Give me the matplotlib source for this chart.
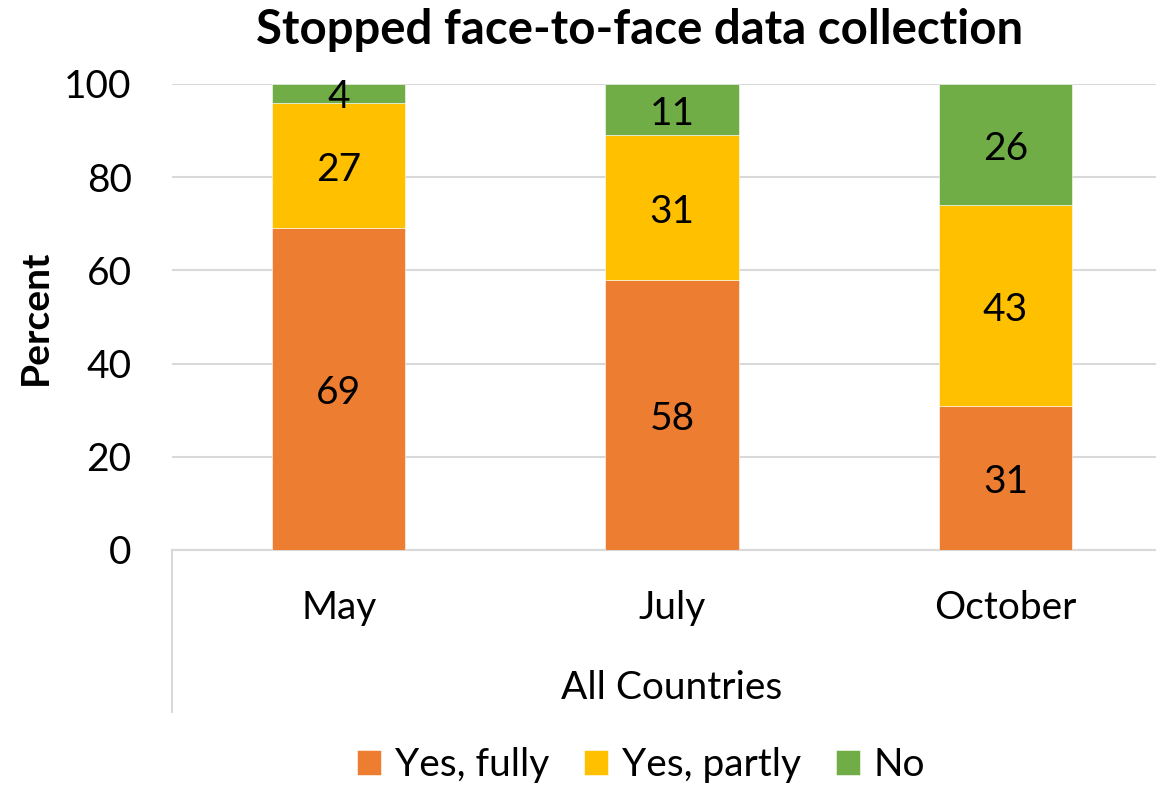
import matplotlib
matplotlib.use("Agg")
import matplotlib.pyplot as plt
from matplotlib.lines import Line2D

plt.rcParams['font.family'] = ['Lato', 'DejaVu Sans']

categories = ["May", "July", "October"]
series_names = ["Yes, fully", "Yes, partly", "No"]
yes_fully = [69, 58, 31]
yes_partly = [27, 31, 43]
no_vals = [4, 11, 26]
colors = ["#ED7D31", "#FFC000", "#70AD47"]
y_ticks = [0, 20, 40, 60, 80, 100]

FS = 28
W, H = 1156, 787
fig = plt.figure(figsize=(W / 100, H / 100), dpi=100)
ax = fig.add_axes([172 / W, 237 / H, 1000 / W, 466 / H])

x = list(range(len(categories)))
bottom = [0] * len(categories)
handles = []
for vals, name, col in zip([yes_fully, yes_partly, no_vals], series_names, colors):
    bars = ax.bar(x, vals, width=0.4, bottom=bottom, color=col, label=name, zorder=3,
                  edgecolor='white', linewidth=0.4)
    for xi, v, b in zip(x, vals, bottom):
        ax.annotate(f"{v}", xy=(xi, b + v / 2), xytext=(0, -3), textcoords='offset points',
                    ha='center', va='center', fontsize=FS, color='black', zorder=4)
    bottom = [b + v for b, v in zip(bottom, vals)]
    handles.append(bars)

ax.set_xlim(-0.5, len(categories) - 0.5)
ax.set_ylim(0, 100)
ax.set_yticks(y_ticks)
ax.set_yticklabels([str(t) for t in y_ticks], fontsize=FS)
ax.yaxis.grid(True, color='#D9D9D9', linewidth=1.5, zorder=0)
ax.set_axisbelow(True)
ax.tick_params(axis='y', length=0, pad=29)
ax.tick_params(axis='x', length=0, pad=0)
ax.set_xticks(x)
ax.set_xticklabels([])
for s in ['top', 'right', 'left']:
    ax.spines[s].set_visible(False)
ax.spines['bottom'].set_color('#D9D9D9')
ax.spines['bottom'].set_linewidth(1.5)

# category labels
for xi, c in zip(x, categories):
    ax.annotate(c, xy=(xi, 0), xycoords='data', xytext=(0, -58 * 0.72), textcoords='offset points',
                ha='center', va='center', fontsize=FS)
ax.annotate("All Countries", xy=(0.5, 0), xycoords='axes fraction', xytext=(0, -138 * 0.72),
            textcoords='offset points', ha='center', va='center', fontsize=FS)
# vertical multi-level axis line
fig.add_artist(Line2D([172 / W, 172 / W], [1 - 550 / H, 1 - 712 / H], color='#D9D9D9', linewidth=1.5))

ax.set_ylabel("Percent", fontsize=FS, fontweight='bold')
ax.yaxis.set_label_coords(-(172 - 53) / 1000, 0.5)

fig.text(640 / W, 1 - 30 / H, "Stopped face-to-face data collection", ha='center', va='center',
         fontsize=34, fontweight='bold')

fig.legend(handles=handles, labels=series_names, loc='center', bbox_to_anchor=(641 / W, 1 - 765 / H),
           ncol=3, frameon=False, fontsize=FS, handlelength=0.62, handleheight=0.62,
           columnspacing=0.9, handletextpad=0.35)

fig.savefig("out.png", dpi=100)
